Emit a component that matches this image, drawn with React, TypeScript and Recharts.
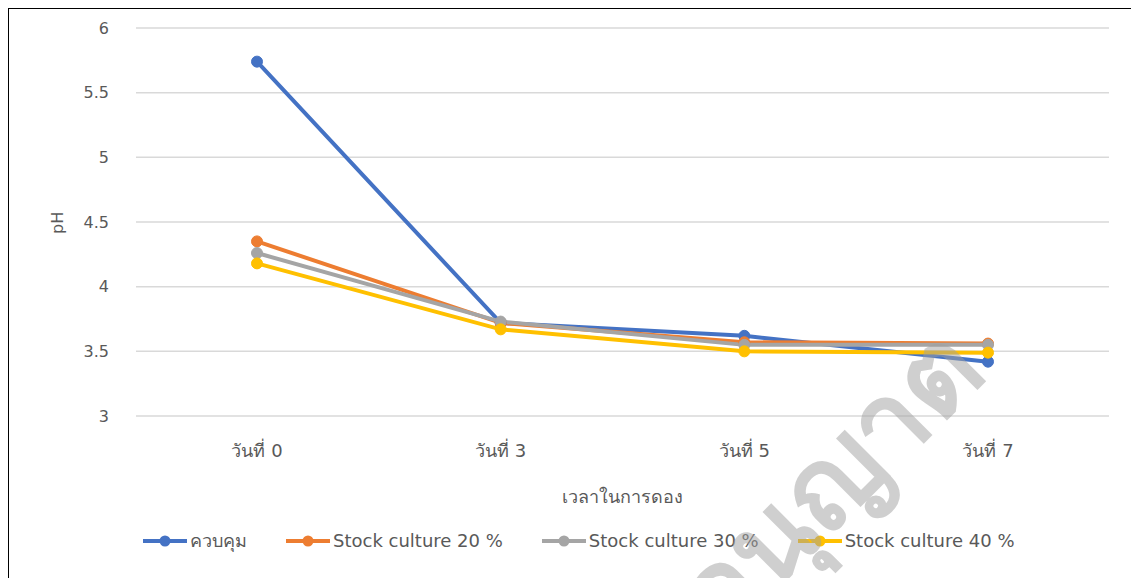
import React from 'react';
import {
  LineChart, Line, XAxis, YAxis, CartesianGrid, Label
} from 'recharts';

const days = ['วันที่ 0', 'วันที่ 3', 'วันที่ 5', 'วันที่ 7'];
const control = [5.74, 3.72, 3.62, 3.42];
const stock20 = [4.35, 3.72, 3.57, 3.56];
const stock30 = [4.26, 3.73, 3.55, 3.55];
const stock40 = [4.18, 3.67, 3.50, 3.49];
const yTicks = [3, 3.5, 4, 4.5, 5, 5.5, 6];

const series = [
  { key: 'ควบคุม', values: control, color: '#4472C4' },
  { key: 'Stock culture 20 %', values: stock20, color: '#ED7D31' },
  { key: 'Stock culture 30 %', values: stock30, color: '#A5A5A5' },
  { key: 'Stock culture 40 %', values: stock40, color: '#FFC000' },
];

const data = days.map((d, i) => {
  const row: Record<string, string | number> = { day: d };
  series.forEach((s) => { row[s.key] = s.values[i]; });
  return row;
});

const FONT = '"DejaVu Sans", "Noto Sans", sans-serif';
const TEXT = '#595959';

const LegendBox = () => (
  <div style={{
    position: 'absolute', left: 0, top: 517, display: 'flex', alignItems: 'center',
    paddingLeft: 133, fontFamily: FONT, fontSize: 18, color: TEXT
  }}>
    {series.map((s) => (
      <div key={s.key} style={{ display: 'flex', alignItems: 'center', marginRight: 38 }}>
        <svg width={46} height={14} style={{ marginRight: 2 }}>
          <line x1={1} y1={7} x2={45} y2={7} stroke={s.color} strokeWidth={4} />
          <circle cx={23} cy={7} r={5.5} fill={s.color} />
        </svg>
        <span>{s.key}</span>
      </div>
    ))}
  </div>
);

export default function App() {
  return (
    <div style={{ position: 'relative', width: 1140, height: 580, border: '2px solid #000', marginLeft: -1, marginTop: -1, background: '#fff', overflow: 'hidden' }}>
      <LineChart width={1140} height={570} data={data} margin={{ top: 19, right: 40, left: 0, bottom: 68 }}>
        <CartesianGrid vertical={false} stroke="#d9d9d9" strokeWidth={1.5} />
        <XAxis
          dataKey="day"
          axisLine={false}
          tickLine={false}
          tickSize={0}
          tickMargin={28}
          height={95}
          padding={{ left: 121, right: 121 }}
          tick={{ fill: TEXT, fontSize: 18, fontFamily: FONT }}
          interval={0}
        >
          <Label value="เวลาในการดอง" position="insideBottom" offset={8} fill={TEXT} fontSize={18} fontFamily={FONT} />
        </XAxis>
        <YAxis
          domain={[3, 6]}
          ticks={yTicks}
          axisLine={false}
          tickLine={false}
          tickSize={0}
          tickMargin={27}
          width={127}
          tick={{ fill: TEXT, fontSize: 16, fontFamily: FONT }}
        >
          <Label value="pH" angle={-90} position="insideLeft" offset={48} dy={12} fill={TEXT} fontSize={16} fontFamily={FONT} />
        </YAxis>
        {series.map((s) => (
          <Line
            key={s.key}
            type="linear"
            dataKey={s.key}
            stroke={s.color}
            strokeWidth={4}
            dot={{ r: 5.5, fill: s.color, stroke: s.color, strokeWidth: 1 }}
            isAnimationActive={false}
          />
        ))}
      </LineChart>
      <LegendBox />
      <div style={{
        position: 'absolute', left: 645, top: 562, fontFamily: '"Noto Sans", sans-serif', fontSize: 112, fontWeight: 600,
        color: 'rgba(160,160,160,0.5)', transform: 'rotate(-45deg)', transformOrigin: 'left top',
        pointerEvents: 'none', whiteSpace: 'nowrap', lineHeight: 1
      }}>อนุญาต</div>
    </div>
  );
}
